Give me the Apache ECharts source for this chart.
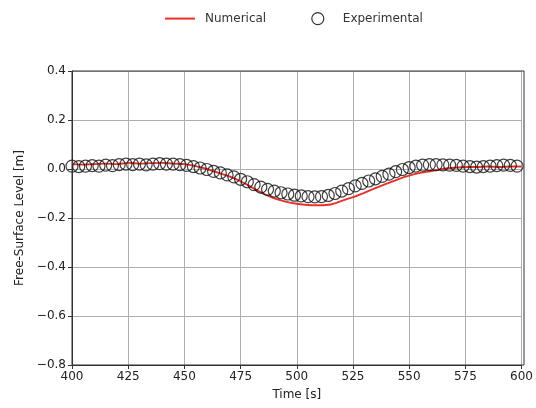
<!DOCTYPE html>
<html>
<head>
<meta charset="utf-8">
<script src="https://cdn.jsdelivr.net/npm/echarts@6/dist/echarts.min.js"></script>
<style>
  html, body { margin: 0; padding: 0; background: #fff; }
  #chart { width: 536px; height: 408px; }
</style>
</head>
<body>
<div id="chart"></div>
<script>
// numerical result, every 5 s
var numTime = [400, 405, 410, 415, 420, 425, 430, 435, 440, 445, 450, 455, 460, 465, 470, 475, 480, 485, 490, 495,
    500, 505, 510, 515, 520, 525, 530, 535, 540, 545, 550, 555, 560, 565, 570, 575, 580, 585, 590, 595, 600];
var numLevel = [0.020, 0.018, 0.020, 0.022, 0.020, 0.025, 0.022, 0.024, 0.025, 0.022, 0.020, 0.012, 0.000, -0.015, -0.030, -0.050, -0.075, -0.100, -0.120, -0.133,
    -0.142, -0.147, -0.148, -0.145, -0.130, -0.115, -0.097, -0.078, -0.060, -0.042, -0.027, -0.016, -0.008, 0.000, 0.005, 0.008, 0.008, 0.010, 0.008, 0.010, 0.010];

// experimental record, every 3 s
var expTime = [400, 403, 406, 409, 412, 415, 418, 421, 424, 427, 430, 433, 436, 439, 442, 445, 448, 451, 454, 457,
    460, 463, 466, 469, 472, 475, 478, 481, 484, 487, 490, 493, 496, 499, 502, 505, 508, 511, 514, 517,
    520, 523, 526, 529, 532, 535, 538, 541, 544, 547, 550, 553, 556, 559, 562, 565, 568, 571, 574, 577,
    580, 583, 586, 589, 592, 595, 598];
var expLevel = [0.012, 0.010, 0.012, 0.014, 0.012, 0.016, 0.014, 0.018, 0.020, 0.018, 0.020, 0.017, 0.020, 0.022, 0.020, 0.020, 0.018, 0.015, 0.010, 0.004,
    -0.002, -0.010, -0.016, -0.024, -0.032, -0.042, -0.052, -0.064, -0.074, -0.083, -0.090, -0.097, -0.102, -0.107, -0.110, -0.113, -0.114, -0.113, -0.108, -0.100,
    -0.090, -0.080, -0.069, -0.059, -0.049, -0.040, -0.030, -0.021, -0.011, -0.002, 0.006, 0.012, 0.016, 0.018, 0.018, 0.017, 0.016, 0.015, 0.012, 0.010,
    0.008, 0.010, 0.012, 0.014, 0.016, 0.015, 0.012];

var font = 'DejaVu Sans';
var red = '#e8302a';
var chart = echarts.init(document.getElementById('chart'));

var axisCommon = {
    axisLine: { onZero: false, lineStyle: { color: '#333', width: 1 } },
    axisTick: { show: true, inside: false, length: 4, lineStyle: { color: '#333' } },
    splitLine: { show: true, lineStyle: { color: '#b0b0b0', width: 1 } },
    nameTextStyle: { fontFamily: font, fontSize: 12, color: '#222' }
};

chart.setOption({
    animation: false,
    legend: {
        top: 7,
        left: 160,
        itemWidth: 30,
        itemHeight: 12,
        itemGap: 45,
        textStyle: { fontFamily: font, fontSize: 12, color: '#333', padding: [0, 0, 0, 5] },
        data: [
            { name: 'Numerical', icon: 'path://M0,5L30,5L30,7L0,7Z', itemStyle: { color: red } },
            { name: 'Experimental', icon: 'circle', itemStyle: { color: 'rgba(255,255,255,0)', borderColor: '#000', borderWidth: 1.2 } }
        ]
    },
    grid: { left: 72, right: 12, top: 71, bottom: 43, containLabel: false },
    xAxis: Object.assign({
        type: 'value',
        min: 400, max: 600, interval: 25,
        name: 'Time [s]',
        nameLocation: 'middle',
        nameGap: 24,
        axisLabel: { fontFamily: font, fontSize: 12, color: '#222', margin: 6 }
    }, axisCommon),
    yAxis: Object.assign({
        type: 'value',
        min: -0.8, max: 0.4, interval: 0.2,
        name: 'Free-Surface Level [m]',
        nameLocation: 'middle',
        nameRotate: 90,
        nameGap: 45,
        axisLabel: {
            fontFamily: font, fontSize: 12, color: '#222', margin: 6,
            formatter: function (v) { return v.toFixed(1).replace('-', '\u2212'); }
        }
    }, axisCommon),
    series: [
        {
            name: 'Numerical',
            type: 'line',
            data: numTime.map(function (t, i) { return [t, numLevel[i]]; }),
            symbol: 'none',
            smooth: 0.3,
            lineStyle: { color: red, width: 1.9 },
            itemStyle: { color: red },
            z: 2
        },
        {
            name: 'Experimental',
            type: 'scatter',
            data: expTime.map(function (t, i) { return [t, expLevel[i]]; }),
            symbol: 'circle',
            symbolSize: 12,
            itemStyle: { color: 'rgba(255,255,255,0)', borderColor: '#111', borderWidth: 1.2 },
            z: 3
        }
    ],
    // frame on all four sides
    graphic: [{
        type: 'rect',
        shape: { x: 72, y: 71, width: 452, height: 294 },
        style: { fill: 'none', stroke: '#333', lineWidth: 1 },
        z: 10,
        silent: true
    }]
});
</script>
</body>
</html>
